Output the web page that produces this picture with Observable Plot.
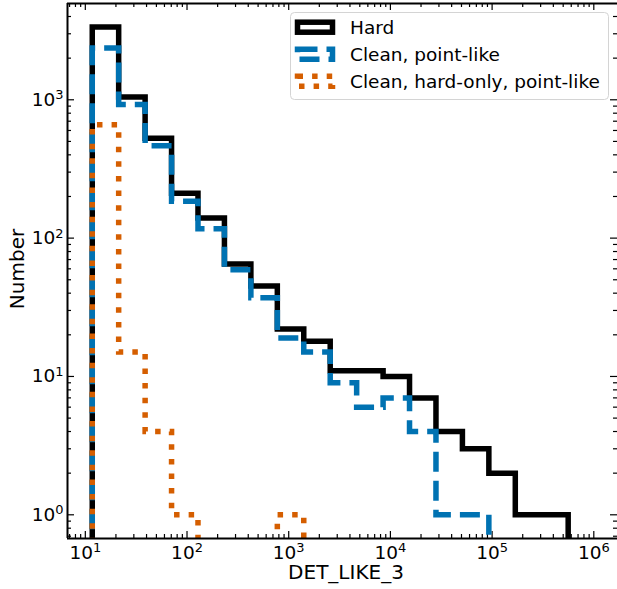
<!DOCTYPE html>
<html>
<head>
<meta charset="utf-8">
<script src="https://cdn.jsdelivr.net/npm/d3@7"></script>
<script src="https://cdn.jsdelivr.net/npm/@observablehq/plot@0.6"></script>
<style>
  body { margin: 0; background: #fff; }
  #wrap { position: relative; width: 617px; height: 589px; font-family: "DejaVu Sans", sans-serif; }
  #wrap > svg.legend { position: absolute; left: 0; top: 0; pointer-events: none; }
</style>
</head>
<body>
<div id="wrap"></div>
<script>
// Histogram bin edges (log-spaced) and counts per bin for each source selection
const binEdges = [11.7, 21.28, 38.73, 70.47, 128.2, 233.3, 424.6, 772.7, 1406, 2559, 4656, 8472,
                  15417, 28054, 51050, 92897, 169044, 307610, 559758];
const hardCounts = [3357, 1047, 528, 211, 140, 65, 45, 22, 18, 11, 11, 10, 7, 4, 3, 2, 1, 1];
const cleanPointCounts = [2366, 926, 466, 185, 117, 59, 37, 19, 15, 9, 6, 7, 4, 1, 1, 0, 0, 0];
const cleanHardOnlyCounts = [661, 15, 4, 1, 0, 0, 0, 1, 0, 0, 0, 0, 0, 0, 0, 0, 0, 0];
const seriesNames = ["Hard", "Clean, point-like", "Clean, hard-only, point-like"];
const seriesColors = ["#000000", "#0072b2", "#d55e00"];
const seriesDash = [null, "20,9", "5.5,9.1"];
const xTicks = [10, 1e2, 1e3, 1e4, 1e5, 1e6];
const yTicks = [1, 10, 100, 1000];
const xLabel = "DET_LIKE_3";
const yLabel = "Number";

const W = 617, H = 589;
const mL = 67, mR = 0, mT = 3, mB = 51;
const innerW = W - mL - mR, innerH = H - mT - mB;
const xDomain = [6.68, 1.71e6];
const yDomain = [0.674, 4966];
const FLOOR = 0.3; // empty bins drop below the visible range (clipped)
const majorLen = 7, minorLen = 4;

// step outline of a histogram: up from the floor, across each bin, back down
function steps(counts) {
  const pts = [{x: binEdges[0], y: FLOOR}];
  counts.forEach((c, i) => {
    const v = c > 0 ? c : FLOOR;
    pts.push({x: binEdges[i], y: v}, {x: binEdges[i + 1], y: v});
  });
  pts.push({x: binEdges[binEdges.length - 1], y: FLOOR});
  return pts;
}

const isDecade = t => Math.abs(Math.log10(t) - Math.round(Math.log10(t))) < 1e-9;
const xMinor = d3.scaleLog().domain(xDomain).ticks().filter(t => !isDecade(t));
const yMinor = d3.scaleLog().domain(yDomain).ticks().filter(t => !isDecade(t));
const sup = d => `10^${Math.round(Math.log10(d))}`;

const tick = {stroke: "#000", strokeWidth: 1.2};
const counts = [hardCounts, cleanPointCounts, cleanHardOnlyCounts];

const chart = Plot.plot({
  width: W, height: H,
  marginLeft: mL, marginRight: mR, marginTop: mT, marginBottom: mB,
  style: {fontFamily: "DejaVu Sans, sans-serif", fontSize: "18.5px", color: "#000", background: "#fff"},
  x: {type: "log", domain: xDomain},
  y: {type: "log", domain: yDomain},
  marks: [
    // inward ticks on all four sides
    Plot.ruleX(xMinor, {...tick, insetTop: innerH - minorLen}),
    Plot.ruleX(xMinor, {...tick, insetBottom: innerH - minorLen}),
    Plot.ruleX(xTicks, {...tick, insetTop: innerH - majorLen}),
    Plot.ruleX(xTicks, {...tick, insetBottom: innerH - majorLen}),
    Plot.ruleY(yMinor, {...tick, insetRight: innerW - minorLen}),
    Plot.ruleY(yMinor, {...tick, insetLeft: innerW - minorLen}),
    Plot.ruleY(yTicks, {...tick, insetRight: innerW - majorLen}),
    Plot.ruleY(yTicks, {...tick, insetLeft: innerW - majorLen}),
    // histogram outlines
    ...counts.map((c, i) => Plot.line(steps(c), {
      x: "x", y: "y", stroke: seriesColors[i], strokeWidth: 5.5,
      strokeDasharray: seriesDash[i], strokeLinejoin: "miter", strokeLinecap: "butt",
      strokeMiterlimit: 10, clip: true
    })),
    // spines
    Plot.ruleX([xDomain[0]], {stroke: "#000", strokeWidth: 2}),
    Plot.ruleY([yDomain[0]], {stroke: "#000", strokeWidth: 2}),
    Plot.ruleY([yDomain[1]], {stroke: "#000", strokeWidth: 2}),
    // tick labels
    Plot.axisX({ticks: xTicks, tickSize: 0, tickPadding: 7, tickFormat: sup, label: null}),
    Plot.axisY({ticks: yTicks, tickSize: 0, tickPadding: 4, tickFormat: sup, label: null}),
    // axis titles
    Plot.text([xLabel], {frameAnchor: "bottom", textAnchor: "middle", dy: 40, dx: 3.5, fontSize: 20, text: d => d}),
    Plot.text([yLabel], {frameAnchor: "left", textAnchor: "middle", rotate: -90, dx: -50.4, dy: -2, fontSize: 20, text: d => d})
  ]
});

// render "10^k" tick labels with a raised exponent
chart.querySelectorAll('g[aria-label$="tick label"] text').forEach(t => {
  const m = /^10\^(-?\d+)$/.exec(t.textContent.trim());
  if (!m) return;
  t.textContent = "10";
  const s = document.createElementNS("http://www.w3.org/2000/svg", "tspan");
  s.setAttribute("font-size", "13px");
  s.setAttribute("dy", "-6.5");
  s.textContent = m[1];
  t.appendChild(s);
});

const wrap = document.getElementById("wrap");
wrap.appendChild(chart);

// legend box drawn over the upper-right of the plot
const ns = "http://www.w3.org/2000/svg";
const lg = document.createElementNS(ns, "svg");
lg.setAttribute("class", "legend");
lg.setAttribute("width", W);
lg.setAttribute("height", H);
const box = document.createElementNS(ns, "rect");
Object.entries({x: 290.5, y: 12.5, width: 318, height: 87, rx: 4, fill: "#fff", "fill-opacity": 0.8,
  stroke: "#d4d4d4", "stroke-width": 1}).forEach(([k, v]) => box.setAttribute(k, v));
lg.appendChild(box);
const rowY = [27.2, 54.2, 81.3];
seriesNames.forEach((name, i) => {
  const r = document.createElementNS(ns, "rect");
  Object.entries({x: 297.5, y: rowY[i] - 5, width: 35, height: 10, fill: "none",
    stroke: seriesColors[i], "stroke-width": 5.5, "stroke-linejoin": "miter"}).forEach(([k, v]) => r.setAttribute(k, v));
  if (seriesDash[i]) r.setAttribute("stroke-dasharray", seriesDash[i]);
  lg.appendChild(r);
  const t = document.createElementNS(ns, "text");
  t.setAttribute("x", 350);
  t.setAttribute("y", rowY[i] + 6.8);
  t.setAttribute("font-family", "DejaVu Sans, sans-serif");
  t.setAttribute("font-size", "18.5px");
  t.textContent = name;
  lg.appendChild(t);
});
wrap.appendChild(lg);
</script>
</body>
</html>
